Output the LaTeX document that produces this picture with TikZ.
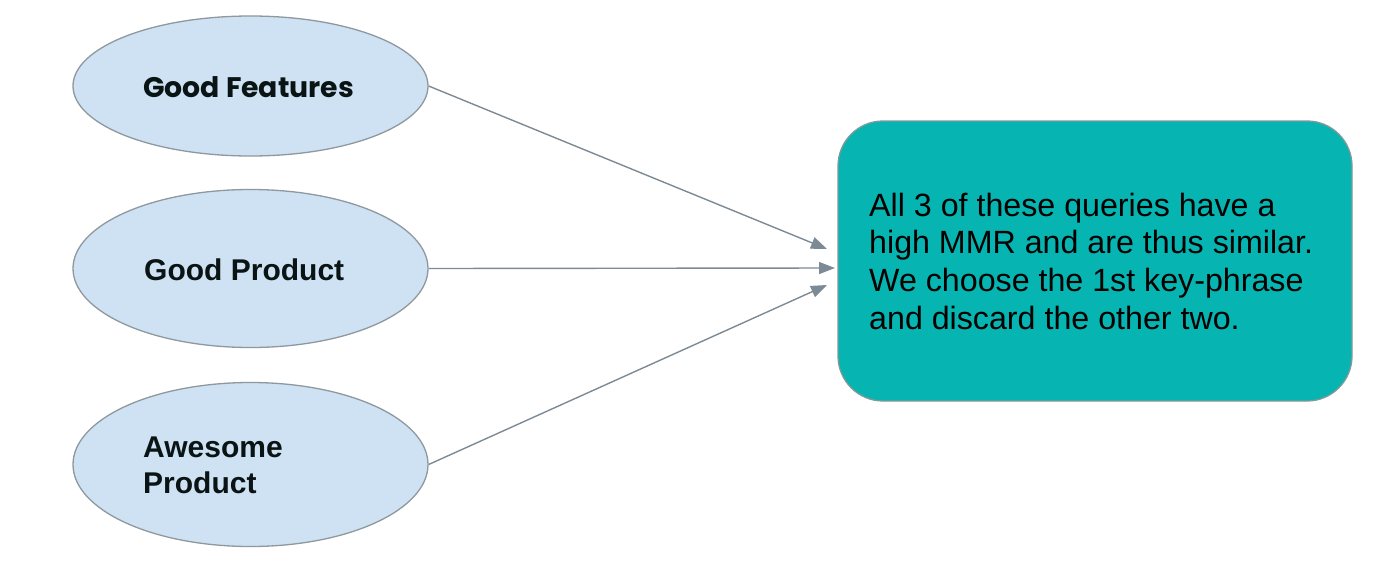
\documentclass[tikz,border=0pt]{standalone}
\usepackage{fontspec}
\setmainfont{Liberation Sans}
\newfontfamily\geofont{Poppins}
\usetikzlibrary{shapes.geometric,arrows.meta}
\definecolor{ellfill}{HTML}{CFE2F3}
\definecolor{ellline}{HTML}{8E989E}
\definecolor{boxfill}{HTML}{06B5B1}
\definecolor{boxline}{HTML}{7F9A9A}
\definecolor{arrcol}{HTML}{7C8A95}
\definecolor{txt}{HTML}{0A1414}
\tikzset{
  ell/.style={ellipse, draw=ellline, fill=ellfill, line width=1.3pt, inner sep=0pt},
  lbl/.style={anchor=base west, inner sep=0pt, text=txt, font=\fontsize{30}{36}\selectfont\bfseries},
  bigbox/.style={draw=boxline, fill=boxfill, line width=1.3pt, rounded corners=45pt},
  conn/.style={draw=arrcol, line width=1.4pt, -{Triangle[length=16pt,width=12pt]}}
}
\begin{document}
\begin{tikzpicture}[x=1pt,y=-1pt]
\useasboundingbox (0,0) rectangle (1400,576);
\node[ell, minimum width=355pt, minimum height=140pt] (e1) at (250.5,86) {};
\node[ell, minimum width=355pt, minimum height=158pt] (e2) at (250.5,268.5) {};
\node[ell, minimum width=355pt, minimum height=164pt] (e3) at (250.5,464.5) {};
\node[lbl, font=\fontsize{28.3}{36}\selectfont\geofont\bfseries] (t1) at (143,97) {Good Features};
\node[lbl] (t2) at (144,280) {Good Product};
\node[lbl, align=left] (t3) at (143,493) {Awesome\\Product};
\node[bigbox, minimum width=514pt, minimum height=280pt, inner sep=0pt] (box) at (1095,261) {};
\node[anchor=base west, inner sep=0pt, align=left, text=black, font=\fontsize{32.2}{37.8}\selectfont] (bt) at (869,329.4)
  {All 3 of these queries have a\\high MMR and are thus similar.\\We choose the 1st key-phrase\\and discard the other two.};
\coordinate (a1) at (827,249);
\coordinate (a2) at (835,268);
\coordinate (a3) at (827,285);
\draw[conn] (e1.east) -- (a1);
\draw[conn] (e2.east) -- (a2);
\draw[conn] (e3.east) -- (a3);
\end{tikzpicture}
\end{document}
